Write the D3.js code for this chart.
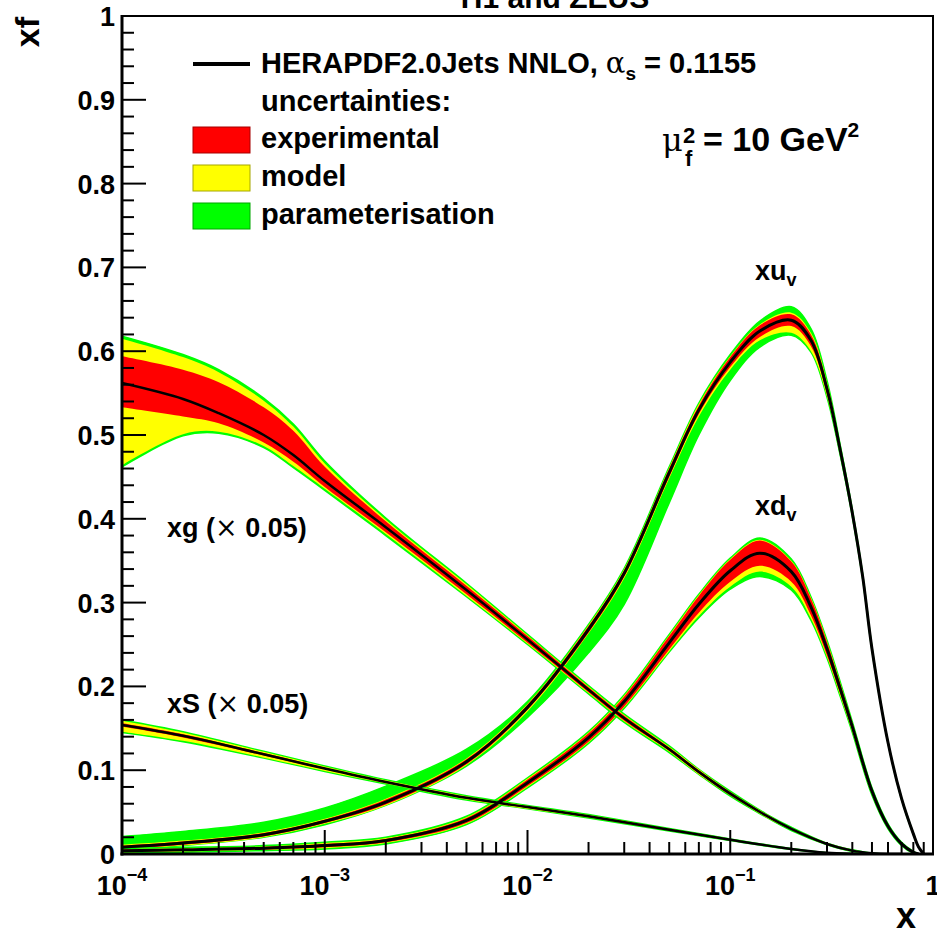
<!DOCTYPE html>
<html>
<head>
<meta charset="utf-8">
<script src="https://cdn.jsdelivr.net/npm/d3@7"></script>
<style>
  body { margin: 0; background: #fff; }
  svg text { font-family: "Liberation Sans", Arial, Helvetica, sans-serif; font-weight: bold; fill: #000; }
  .sym { font-family: "DejaVu Serif", "Liberation Serif", serif; font-weight: normal; }
</style>
</head>
<body>
<svg id="chart" width="937" height="935"></svg>
<script>
// ---- data (xf values at mu_f^2 = 10 GeV^2) ----
// xu_v
var xuvX      = [1e-4, 2e-4, 5e-4, 1e-3, 2e-3, 5e-3, 0.01, 0.02, 0.03, 0.05, 0.07, 0.1, 0.14, 0.2, 0.25, 0.3, 0.35, 0.4, 0.45, 0.5, 0.6, 0.7, 0.8, 0.85, 0.9];
var xuvC      = [0.008, 0.013, 0.023, 0.039, 0.062, 0.110, 0.175, 0.268, 0.335, 0.455, 0.530, 0.587, 0.624, 0.637, 0.613, 0.555, 0.480, 0.407, 0.331, 0.245, 0.133, 0.066, 0.024, 0.008, 0.000];
var xuvExpDn  = [0.002, 0.002, 0.002, 0.002, 0.003, 0.003, 0.003, 0.004, 0.004, 0.005, 0.005, 0.006, 0.007, 0.007, 0.007, 0.006, 0.004, 0.003, 0.002, 0.002, 0.001, 0.001, 0.001, 0, 0];
var xuvExpUp  = [0.002, 0.002, 0.002, 0.002, 0.003, 0.003, 0.003, 0.004, 0.004, 0.005, 0.005, 0.006, 0.007, 0.007, 0.007, 0.006, 0.004, 0.003, 0.002, 0.002, 0.001, 0.001, 0.001, 0, 0];
var xuvModDn  = [0.003, 0.003, 0.003, 0.003, 0.004, 0.004, 0.005, 0.005, 0.006, 0.007, 0.008, 0.009, 0.011, 0.015, 0.013, 0.009, 0.006, 0.004, 0.003, 0.002, 0.001, 0.001, 0.001, 0, 0];
var xuvModUp  = [0.003, 0.003, 0.003, 0.003, 0.004, 0.004, 0.004, 0.005, 0.005, 0.006, 0.007, 0.007, 0.008, 0.009, 0.009, 0.008, 0.005, 0.004, 0.003, 0.002, 0.001, 0.001, 0.001, 0, 0];
var xuvParDn  = [0.003, 0.003, 0.003, 0.004, 0.004, 0.005, 0.012, 0.028, 0.037, 0.036, 0.030, 0.022, 0.019, 0.018, 0.014, 0.010, 0.006, 0.004, 0.003, 0.002, 0.001, 0.001, 0.001, 0, 0];
var xuvParUp  = [0.013, 0.014, 0.015, 0.016, 0.019, 0.015, 0.007, 0.006, 0.006, 0.007, 0.008, 0.009, 0.012, 0.016, 0.014, 0.010, 0.006, 0.004, 0.003, 0.002, 0.001, 0.001, 0.001, 0, 0];

// xd_v
var xdvX      = [1e-4, 2e-4, 5e-4, 1e-3, 2e-3, 5e-3, 0.01, 0.02, 0.03, 0.05, 0.07, 0.1, 0.14, 0.2, 0.25, 0.3, 0.35, 0.4, 0.5, 0.6, 0.7, 0.8, 0.85];
var xdvC      = [0.004, 0.005, 0.007, 0.010, 0.016, 0.040, 0.085, 0.139, 0.182, 0.252, 0.298, 0.338, 0.359, 0.337, 0.295, 0.245, 0.196, 0.152, 0.075, 0.033, 0.012, 0.002, 0.000];
var xdvExpDn  = [0.001, 0.001, 0.0015, 0.002, 0.002, 0.003, 0.004, 0.005, 0.006, 0.008, 0.010, 0.013, 0.015, 0.012, 0.010, 0.008, 0.006, 0.005, 0.003, 0.002, 0.001, 0.001, 0];
var xdvExpUp  = [0.001, 0.001, 0.0015, 0.002, 0.002, 0.003, 0.004, 0.005, 0.006, 0.008, 0.010, 0.013, 0.015, 0.012, 0.010, 0.008, 0.006, 0.005, 0.003, 0.002, 0.001, 0.001, 0];
var xdvModDn  = [0.002, 0.002, 0.002, 0.003, 0.003, 0.004, 0.005, 0.006, 0.007, 0.010, 0.014, 0.019, 0.022, 0.018, 0.014, 0.010, 0.008, 0.006, 0.004, 0.002, 0.001, 0.001, 0];
var xdvModUp  = [0.002, 0.002, 0.002, 0.003, 0.003, 0.004, 0.005, 0.006, 0.007, 0.009, 0.011, 0.014, 0.016, 0.013, 0.011, 0.009, 0.007, 0.005, 0.003, 0.002, 0.001, 0.001, 0];
var xdvParDn  = [0.003, 0.003, 0.003, 0.004, 0.004, 0.005, 0.006, 0.007, 0.008, 0.011, 0.016, 0.022, 0.028, 0.022, 0.016, 0.011, 0.009, 0.007, 0.005, 0.003, 0.002, 0.001, 0];
var xdvParUp  = [0.003, 0.003, 0.003, 0.004, 0.004, 0.005, 0.006, 0.007, 0.008, 0.010, 0.012, 0.015, 0.018, 0.015, 0.012, 0.010, 0.008, 0.006, 0.004, 0.003, 0.002, 0.001, 0];

// xg (x 0.05)
var xgX       = [1e-4, 2e-4, 3e-4, 5e-4, 7e-4, 1e-3, 2e-3, 5e-3, 0.01, 0.02, 0.03, 0.05, 0.07, 0.1, 0.15, 0.2, 0.3, 0.4, 0.5, 0.6, 0.7];
var xgC       = [0.562, 0.543, 0.526, 0.500, 0.476, 0.445, 0.390, 0.315, 0.256, 0.196, 0.162, 0.125, 0.098, 0.072, 0.046, 0.030, 0.012, 0.004, 0.001, 0, 0];
var xgExpDn   = [0.029, 0.021, 0.012, 0.009, 0.008, 0.007, 0.006, 0.005, 0.004, 0.003, 0.003, 0.002, 0.002, 0.002, 0.001, 0.001, 0.001, 0, 0, 0, 0];
var xgExpUp   = [0.032, 0.035, 0.037, 0.033, 0.029, 0.017, 0.007, 0.005, 0.004, 0.003, 0.003, 0.002, 0.002, 0.002, 0.001, 0.001, 0.001, 0, 0, 0, 0];
var xgModDn   = [0.098, 0.042, 0.022, 0.013, 0.013, 0.009, 0.008, 0.007, 0.005, 0.004, 0.004, 0.003, 0.003, 0.002, 0.002, 0.001, 0.001, 0.001, 0, 0, 0];
var xgModUp   = [0.053, 0.050, 0.049, 0.041, 0.034, 0.021, 0.009, 0.007, 0.005, 0.004, 0.004, 0.003, 0.003, 0.002, 0.002, 0.001, 0.001, 0.001, 0, 0, 0];
var xgParDn   = [0.100, 0.044, 0.024, 0.015, 0.015, 0.011, 0.010, 0.008, 0.006, 0.005, 0.005, 0.004, 0.003, 0.003, 0.002, 0.002, 0.001, 0.001, 0, 0, 0];
var xgParUp   = [0.056, 0.053, 0.052, 0.044, 0.037, 0.024, 0.011, 0.008, 0.006, 0.005, 0.005, 0.004, 0.003, 0.003, 0.002, 0.002, 0.001, 0.001, 0, 0, 0];

// xS (x 0.05)
var xsX       = [1e-4, 2e-4, 5e-4, 1e-3, 2e-3, 5e-3, 0.01, 0.02, 0.05, 0.1, 0.2, 0.3, 0.4, 0.5];
var xsC       = [0.154, 0.141, 0.119, 0.102, 0.086, 0.067, 0.056, 0.045, 0.029, 0.017, 0.006, 0.0015, 0.0003, 0];
var xsExpDn   = [0.002, 0.002, 0.0015, 0.001, 0.001, 0.001, 0.001, 0.001, 0.001, 0.0005, 0.0005, 0, 0, 0];
var xsExpUp   = [0.002, 0.002, 0.0015, 0.001, 0.001, 0.001, 0.001, 0.001, 0.001, 0.0005, 0.0005, 0, 0, 0];
var xsModDn   = [0.008, 0.006, 0.004, 0.003, 0.002, 0.002, 0.002, 0.0015, 0.001, 0.001, 0.0005, 0, 0, 0];
var xsModUp   = [0.005, 0.004, 0.003, 0.0025, 0.002, 0.002, 0.0015, 0.0015, 0.001, 0.001, 0.0005, 0, 0, 0];
var xsParDn   = [0.009, 0.007, 0.0045, 0.0035, 0.0025, 0.0025, 0.002, 0.002, 0.0015, 0.001, 0.0005, 0, 0, 0];
var xsParUp   = [0.006, 0.005, 0.0035, 0.003, 0.0025, 0.0025, 0.002, 0.002, 0.0015, 0.001, 0.0005, 0, 0, 0];

// axis ticks and labels
var xMajor = [1e-4, 1e-3, 1e-2, 1e-1, 1];
var xMajorExp = ['\u22124', '\u22123', '\u22122', '\u22121', ''];
var yMajor = [0, 0.1, 0.2, 0.3, 0.4, 0.5, 0.6, 0.7, 0.8, 0.9, 1];
var yLabels = ['0', '0.1', '0.2', '0.3', '0.4', '0.5', '0.6', '0.7', '0.8', '0.9', '1'];
var legendNames = ['experimental', 'model', 'parameterisation'];
var legendColors = ['#ff0000', '#ffff00', '#00ff00'];

// ---- layout ----
var svg = d3.select('#chart');
var padL = 122, padR = 933, padT = 16, padB = 854;

var x = d3.scaleLog().domain([1e-4, 1]).range([padL, padR]);
var y = d3.scaleLinear().domain([0, 1]).range([padB, padT]);

// smooth curve through the read points
var smooth = d3.curveCatmullRom.alpha(0.5);

svg.append('clipPath').attr('id', 'plotclip')
  .append('rect')
  .attr('x', padL).attr('y', padT)
  .attr('width', padR - padL).attr('height', padB - padT);

var plot = svg.append('g').attr('clip-path', 'url(#plotclip)');

var pdfs = [
  { x: xuvX, c: xuvC, e: [xuvExpDn, xuvExpUp], m: [xuvModDn, xuvModUp], p: [xuvParDn, xuvParUp], w: 3 },
  { x: xdvX, c: xdvC, e: [xdvExpDn, xdvExpUp], m: [xdvModDn, xdvModUp], p: [xdvParDn, xdvParUp], w: 3 },
  { x: xgX,  c: xgC,  e: [xgExpDn, xgExpUp],   m: [xgModDn, xgModUp],   p: [xgParDn, xgParUp],   w: 2.5 },
  { x: xsX,  c: xsC,  e: [xsExpDn, xsExpUp],   m: [xsModDn, xsModUp],   p: [xsParDn, xsParUp],   w: 2.5 }
];

// band between c - dn and c + up
function band(pdf, err) {
  return d3.area()
    .curve(smooth)
    .x(function (d, i) { return x(pdf.x[i]); })
    .y0(function (d, i) { return y(pdf.c[i] - err[0][i]); })
    .y1(function (d, i) { return y(pdf.c[i] + err[1][i]); })(pdf.x);
}

function centralLine(pdf) {
  return d3.line()
    .curve(smooth)
    .x(function (d, i) { return x(pdf.x[i]); })
    .y(function (d, i) { return y(pdf.c[i]); })(pdf.x);
}

// bands: total (green, with outline), then model (yellow), then experimental (red)
pdfs.forEach(function (pdf) {
  plot.append('path').attr('d', band(pdf, pdf.p))
    .attr('fill', '#00ff00').attr('stroke', '#00ff00').attr('stroke-width', 1.5);
  plot.append('path').attr('d', band(pdf, pdf.m)).attr('fill', '#ffff00');
  plot.append('path').attr('d', band(pdf, pdf.e)).attr('fill', '#ff0000');
});

// central values on top
pdfs.forEach(function (pdf) {
  plot.append('path').attr('d', centralLine(pdf))
    .attr('fill', 'none').attr('stroke', '#000').attr('stroke-width', pdf.w);
});

// ---- frame and ticks ----
svg.append('rect')
  .attr('x', padL).attr('y', padT)
  .attr('width', padR - padL).attr('height', padB - padT)
  .attr('fill', 'none').attr('stroke', '#000').attr('stroke-width', 2);
svg.append('line').attr('x1', padL).attr('x2', padL).attr('y1', padT - 1).attr('y2', padB + 1.5)
  .attr('stroke', '#000').attr('stroke-width', 3);
svg.append('line').attr('x1', padL - 1.5).attr('x2', padR + 1).attr('y1', padB).attr('y2', padB)
  .attr('stroke', '#000').attr('stroke-width', 3);

var ticks = svg.append('g').attr('stroke', '#000').attr('stroke-width', 2);

// y ticks: majors every 0.1, minors every 0.02
d3.range(0, 51).forEach(function (i) {
  var len = (i % 5 === 0) ? 24 : 12;
  ticks.append('line')
    .attr('x1', padL).attr('x2', padL + len)
    .attr('y1', y(i / 50)).attr('y2', y(i / 50));
});

// x ticks: decades and 2..9 minors
x.ticks().forEach(function (t) {
  var m = Math.round(t / Math.pow(10, Math.floor(Math.log10(t) + 1e-9)));
  var len = (m === 1) ? 24 : 12;
  if (t <= 1e-4 || t >= 1) return;
  ticks.append('line')
    .attr('x1', x(t)).attr('x2', x(t))
    .attr('y1', padB).attr('y2', padB - len);
});

// y tick labels
svg.append('g').selectAll('text')
  .data(yMajor)
  .join('text')
  .attr('x', 115)
  .attr('y', function (d) { return y(d) + 10; })
  .attr('text-anchor', 'end')
  .style('font-size', '27px')
  .text(function (d, i) { return yLabels[i]; });

// x tick labels
var xl = svg.append('g').selectAll('text')
  .data(xMajor)
  .join('text')
  .attr('x', function (d) { return x(d); })
  .attr('y', 895)
  .attr('text-anchor', 'middle')
  .style('font-size', '27px');
xl.each(function (d, i) {
  var t = d3.select(this);
  if (xMajorExp[i] === '') { t.text('1'); return; }
  t.append('tspan').text('10');
  t.append('tspan').attr('dy', -14).style('font-size', '18px').text(xMajorExp[i]);
});

// axis titles
svg.append('text').attr('transform', 'translate(39,17) rotate(-90)')
  .attr('text-anchor', 'end').style('font-size', '34px').text('xf');
svg.append('text').attr('x', 916).attr('y', 928)
  .attr('text-anchor', 'end').style('font-size', '36px').text('x');

// title, mostly above the window
svg.append('text').attr('x', 555).attr('y', 8)
  .attr('text-anchor', 'middle').style('font-size', '30px').text('H1 and ZEUS');

// ---- legend ----
var leg = svg.append('g');
leg.append('line').attr('x1', 193).attr('x2', 250).attr('y1', 64).attr('y2', 64)
  .attr('stroke', '#000').attr('stroke-width', 4);
var head = leg.append('text').attr('x', 261).attr('y', 73).style('font-size', '29px');
head.append('tspan').text('HERAPDF2.0Jets NNLO, ');
head.append('tspan').attr('class', 'sym').text('\u03b1');
head.append('tspan').attr('dy', 7).style('font-size', '19px').text('s');
head.append('tspan').attr('dy', -7).text(' = 0.1155');
leg.append('text').attr('x', 261).attr('y', 111).style('font-size', '29px').text('uncertainties:');

legendNames.forEach(function (name, i) {
  var yb = 148 + i * 38;
  leg.append('rect')
    .attr('x', 193).attr('y', yb - 21)
    .attr('width', 57).attr('height', 26)
    .attr('fill', legendColors[i])
    .attr('stroke', d3.color(legendColors[i]).darker(1.2)).attr('stroke-width', 1);
  leg.append('text').attr('x', 261).attr('y', yb).style('font-size', '29px').text(name);
});

// scale text
svg.append('text').attr('class', 'sym').attr('x', 662).attr('y', 151)
  .style('font-size', '32px').text('\u03bc');
svg.append('text').attr('x', 683).attr('y', 143).style('font-size', '22px').text('2');
svg.append('text').attr('x', 685).attr('y', 166).style('font-size', '22px').text('f');
var mu = svg.append('text').attr('x', 703).attr('y', 151).style('font-size', '34px');
mu.append('tspan').text('= 10 GeV');
mu.append('tspan').attr('dy', -14).style('font-size', '21px').text('2');

// curve labels
var lab = svg.append('g').style('font-size', '27px');
var tu = lab.append('text').attr('x', 755).attr('y', 280);
tu.append('tspan').text('xu');
tu.append('tspan').attr('dy', 6).style('font-size', '18px').text('v');
var td = lab.append('text').attr('x', 755).attr('y', 515);
td.append('tspan').text('xd');
td.append('tspan').attr('dy', 6).style('font-size', '18px').text('v');

var tg = lab.append('text').attr('x', 167).attr('y', 537);
tg.append('tspan').text('xg (');
tg.append('tspan').attr('class', 'sym').text('\u00d7');
tg.append('tspan').text(' 0.05)');
var ts = lab.append('text').attr('x', 167).attr('y', 713);
ts.append('tspan').text('xS (');
ts.append('tspan').attr('class', 'sym').text('\u00d7');
ts.append('tspan').text(' 0.05)');
</script>
</body>
</html>
